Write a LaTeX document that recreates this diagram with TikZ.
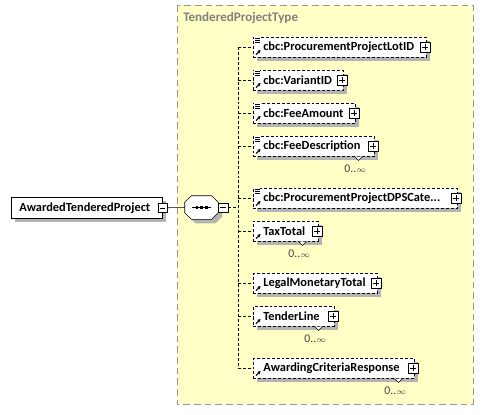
\documentclass[tikz,border=0pt]{standalone}
\usepackage{fontspec}
\setmainfont{Carlito}
\usetikzlibrary{shadows,arrows.meta}

\definecolor{typebg}{RGB}{255,255,198}
\definecolor{typeline}{RGB}{150,150,150}
\definecolor{shadowgray}{RGB}{180,180,180}

\begin{document}
\begin{tikzpicture}[x=0.75pt,y=-0.75pt,
  every node/.style={font=\bfseries\fontsize{9.3}{11}\selectfont,
    execute at begin node={\hyphenpenalty=10000 }},
  shade/.style={drop shadow={shadow xshift=3pt,shadow yshift=-3pt,fill=shadowgray,opacity=1}},
  elem/.style={draw,dashed,dash pattern=on 2.2pt off 1.5pt,fill=white,shade,anchor=north west,
    inner xsep=7.5pt,inner ysep=0pt,minimum height=15pt,text width=#1,align=left},
  rootbox/.style={draw,fill=white,shade,anchor=north west,inner xsep=6pt,inner ysep=0pt,
    minimum height=15.75pt,text width=#1,align=left},
  plus/.style={draw,solid,fill=white,minimum size=7pt,inner sep=0pt,
    path picture={\draw ([xshift=1.3pt]path picture bounding box.west) -- ([xshift=-1.3pt]path picture bounding box.east);
      \draw ([yshift=-1.3pt]path picture bounding box.north) -- ([yshift=1.3pt]path picture bounding box.south);}},
  minus/.style={draw,solid,fill=white,minimum size=7pt,inner sep=0pt,
    path picture={\draw ([xshift=1.3pt]path picture bounding box.west) -- ([xshift=-1.3pt]path picture bounding box.east);}},
  mult/.style={font=\fontsize{8.8}{10}\selectfont,text=black!75,inner sep=0pt},
  link/.style={dashed,dash pattern=on 2.2pt off 1.5pt}]

  \useasboundingbox (0,0) rectangle (484,414);

  \draw[typeline,dashed,dash pattern=on 5pt off 3pt,fill=typebg] (177,5) rectangle (473,404);
  \node[anchor=north west,text=black!50,inner sep=0pt,font=\bfseries\fontsize{9.8}{11}\selectfont]
    (title) at (183,12) {TenderedProjectType};

  \node[rootbox=101.25pt] (root) at (11,197) {AwardedTenderedProject};
  \node[minus] (rootminus) at (root.east) {};

  \node[minimum width=24.75pt,minimum height=17.25pt,inner sep=0pt] (seq) at (201.5,207.5) {};
  \draw[fill=white,shade] ([xshift=5pt]seq.north west) -- ([xshift=-5pt]seq.north east)
    -- ([yshift=-4.9pt]seq.north east) -- ([yshift=4.9pt]seq.south east)
    -- ([xshift=-5pt]seq.south east) -- ([xshift=5pt]seq.south west)
    -- ([yshift=4.9pt]seq.south west) -- ([yshift=-4.9pt]seq.north west) -- cycle;
  \draw[line width=0.8pt] ([xshift=-7pt]seq.center) -- ([xshift=7pt]seq.center);
  \foreach \dx in {-3.4pt,0pt,3.4pt}
    \fill ([xshift=\dx]seq.center) +(-1.1pt,-1.1pt) rectangle +(1.1pt,1.1pt);
  \node[minus,anchor=west] (seqminus) at (seq.east) {};

  \node[elem=114.75pt] (lot) at (253,37) {cbc:ProcurementProjectLotID};
  \node[elem=52.5pt] (variant) at (253,70) {cbc:VariantID};
  \node[elem=61.5pt] (fee) at (253,103) {cbc:FeeAmount};
  \node[elem=75.75pt] (desc) at (253,136) {cbc:FeeDescription};
  \node[elem=138pt] (dps) at (253,188) {cbc:ProcurementProjectDPSCate...};
  \node[elem=33.75pt] (tax) at (253,221) {TaxTotal};
  \node[elem=78pt] (legal) at (253,273) {LegalMonetaryTotal};
  \node[elem=45.75pt] (tender) at (253,306) {TenderLine};
  \node[elem=105.75pt] (award) at (253,358) {AwardingCriteriaResponse};

  \foreach \n in {lot,variant,fee,desc,dps,tax,legal,tender,award}
    \node[plus] (\n plus) at ([xshift=-1pt]\n.east) {};

  \foreach \n in {desc,tax,tender,award} {
    \draw[solid,fill=white] ([xshift=-15pt]\n.south east) -- ([xshift=-12pt,yshift=-3pt]\n.south east)
      -- ([xshift=-9pt]\n.south east);
    \node[mult] (\n mult) at ([xshift=-14.5pt,yshift=-9pt]\n.south east) {0..$\scriptstyle\infty$};
  }

  \foreach \n in {lot,variant,fee,desc,dps} {
    \fill[white] ([shift={(1,-1)}]\n.north west) rectangle ++(6,6);
    \foreach \dy in {1,3,5}
      \draw[line width=0.6pt] ([shift={(2,\dy)}]\n.north west) -- ++(5,0);
  }
  \foreach \n in {lot,variant,fee,desc,dps,tax,legal,tender,award}
    \draw[line width=0.8pt,-{Stealth[length=2.4pt,width=2.6pt]}] ([shift={(3,-3)}]\n.south west) -- ++(4.5,-4.5);

  \coordinate (bus) at (238,207.5);
  \draw (rootminus.east) -- (seq.west);
  \draw[link] (seqminus.east) -- (bus);
  \draw[link] (bus |- lot.west) -- (bus |- award.west);
  \foreach \n in {lot,variant,fee,desc,dps,tax,legal,tender,award}
    \draw[link] (bus |- \n.west) -- (\n.west);
\end{tikzpicture}
\end{document}
